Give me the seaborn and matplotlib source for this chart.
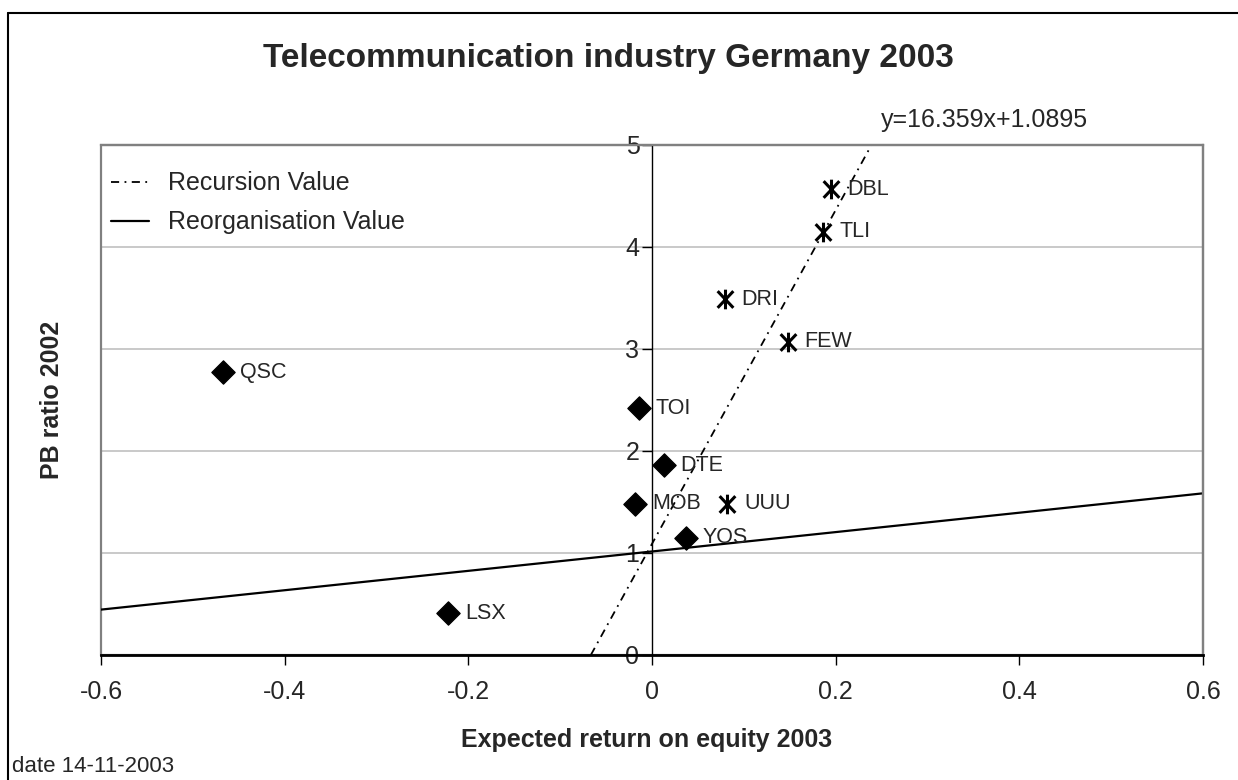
import numpy as np
import pandas as pd
import matplotlib
matplotlib.use("Agg")
import matplotlib.pyplot as plt
from matplotlib.lines import Line2D
from matplotlib.patches import Rectangle
from matplotlib.path import Path
import seaborn as sns

# companies with a diamond marker
div_names = ["QSC", "LSX", "TOI", "DTE", "MOB", "YOS"]
div_x = [-0.467, -0.222, -0.014, 0.013, -0.018, 0.037]
div_y = [2.77, 0.41, 2.42, 1.86, 1.485, 1.15]

# companies with a star marker
star_names = ["DBL", "TLI", "DRI", "FEW", "UUU"]
star_x = [0.195, 0.186, 0.079, 0.148, 0.082]
star_y = [4.565, 4.15, 3.49, 3.07, 1.485]

# lines
rec_x = [-0.0666, 0.239]
rec_y = [0.0, 5.0]
reorg_x = [-0.6, 0.6]
reorg_y = [0.445, 1.585]
equation = "y=16.359x+1.0895"

sns.set_style("white")
plt.rcParams["font.family"] = ["Liberation Sans", "DejaVu Sans"]

fig = plt.figure(figsize=(12.38, 7.8), dpi=100)
ax = fig.add_axes([101 / 1238, 1 - 655 / 780, (1203 - 101) / 1238, (655 - 145) / 780])

pts = pd.DataFrame({
    "x": div_x + star_x,
    "y": div_y + star_y,
    "name": div_names + star_names,
    "kind": ["div"] * len(div_x) + ["star"] * len(star_x),
})

# excel-like star: an X with a vertical bar
star = Path([(0, -1), (0, 1), (-0.8, -0.85), (0.8, 0.85), (-0.8, 0.85), (0.8, -0.85)],
            [Path.MOVETO, Path.LINETO, Path.MOVETO, Path.LINETO, Path.MOVETO, Path.LINETO])

sns.scatterplot(data=pts[pts.kind == "div"], x="x", y="y", marker="D", s=140,
                color="black", edgecolor="black", ax=ax, legend=False, zorder=5)
sns.scatterplot(data=pts[pts.kind == "star"], x="x", y="y", marker=star, s=200,
                color="black", edgecolor="black", linewidth=2.2, ax=ax, legend=False, zorder=5)

sns.lineplot(x=rec_x, y=rec_y, color="black", lw=1.3, ax=ax, label="Recursion Value",
             linestyle=(0, (4.5, 3, 1, 3)))
sns.lineplot(x=reorg_x, y=reorg_y, color="black", lw=1.6, ax=ax, label="Reorganisation Value")

for _, r in pts.iterrows():
    ax.annotate(r["name"], (r["x"], r["y"]), xytext=(12, 0), textcoords="offset points",
                va="center", ha="left", fontsize=15.5)

ax.annotate(equation, (rec_x[1], rec_y[1]), xytext=(7, 9), textcoords="offset points",
            ha="left", va="bottom", fontsize=18, annotation_clip=False)

ax.set_xlim(-0.6, 0.6)
ax.set_ylim(0, 5)
ax.set_xticks(np.arange(-0.6, 0.61, 0.2))
ax.set_xticklabels(["-0.6", "-0.4", "-0.2", "0", "0.2", "0.4", "0.6"])
ax.set_yticks([0, 1, 2, 3, 4, 5])
ax.set_yticklabels(["0", "1", "2", "3", "4", "5"])

for y in [1, 2, 3, 4]:
    ax.axhline(y, color="#c0c0c0", lw=1.2, zorder=0)

# y axis sits at x=0
ax.spines["left"].set_position(("data", 0))
ax.spines["left"].set_color("black")
ax.spines["left"].set_linewidth(1)
ax.spines["bottom"].set_color("black")
ax.spines["bottom"].set_linewidth(2)
ax.spines["top"].set_color("#808080")
ax.spines["top"].set_linewidth(1.6)
ax.spines["right"].set_color("#808080")
ax.spines["right"].set_linewidth(1.6)
ax.add_patch(Rectangle((0, 0), 1, 1, transform=ax.transAxes, fill=False,
                       edgecolor="#808080", lw=1.6, zorder=0.5, clip_on=False))

ax.tick_params(axis="both", which="both", direction="out", length=7, width=1,
               color="black", labelsize=18, left=True, bottom=True)
ax.tick_params(axis="x", pad=11)
ax.tick_params(axis="y", pad=2)
ax.set_xlabel("")
ax.set_ylabel("")

leg = ax.legend(loc="upper left", bbox_to_anchor=(0.002, 0.963), frameon=False, fontsize=18,
                handlelength=1.55, borderaxespad=0, borderpad=0.3, labelspacing=0.6,
                handletextpad=0.75)

fig.text(608 / 1238, 1 - 58 / 780, "Telecommunication industry Germany 2003",
         ha="center", va="center", fontsize=24, fontweight="bold")
fig.text(647 / 1238, 1 - 740 / 780, "Expected return on equity 2003",
         ha="center", va="center", fontsize=18, fontweight="bold")
fig.text(52 / 1238, 1 - 400 / 780, "PB ratio 2002", rotation=90,
         ha="center", va="center", fontsize=18, fontweight="bold")
fig.text(12 / 1238, 1 - 767 / 780, "date 14-11-2003", ha="left", va="center", fontsize=16)

# outer chart frame (left and top edges visible)
fig.add_artist(Line2D([8 / 1238, 8 / 1238], [0, 1 - 13 / 780], color="black", lw=1.5,
                      transform=fig.transFigure))
fig.add_artist(Line2D([8 / 1238, 1], [1 - 13 / 780, 1 - 13 / 780], color="black", lw=1.5,
                      transform=fig.transFigure))

fig.savefig("out.png", dpi=100)
